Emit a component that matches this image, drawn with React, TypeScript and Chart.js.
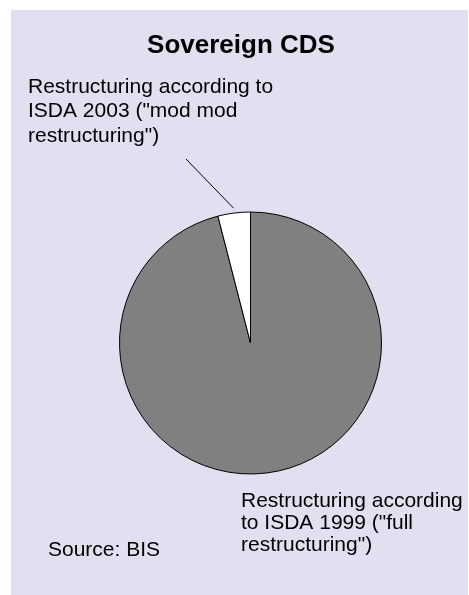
import React, { useEffect, useRef } from "react";
import { Chart, registerables } from "chart.js";

Chart.register(...registerables);

// Share of sovereign CDS contracts by restructuring clause (%)
const categories: string[] = [
  'Restructuring according to ISDA 1999 ("full restructuring")',
  'Restructuring according to ISDA 2003 ("mod mod restructuring")',
];
const shares: number[] = [96, 4];
const sliceColors: string[] = ["#808080", "#FFFFFF"];

const titleText = "Sovereign CDS";
const sourceText = "Source: BIS";
const fullLabelLines: string[] = ["Restructuring according", 'to ISDA 1999 ("full', 'restructuring")'];
const modLabelLines: string[] = ["Restructuring according to", 'ISDA 2003 ("mod mod', 'restructuring")'];

const W = 469;
const H = 595;
const FONT = "'Liberation Sans', Arial, Helvetica, sans-serif";

const annotationsPlugin = {
  id: "pieAnnotations",
  afterDatasetsDraw(chart: any) {
    const { ctx } = chart;
    ctx.save();
    ctx.fillStyle = "#000";
    ctx.textBaseline = "alphabetic";

    // Title
    ctx.font = `bold 26px ${FONT}`;
    ctx.textAlign = "center";
    ctx.fillText(titleText, 241, 53);

    // Slice labels
    ctx.font = `21px ${FONT}`;
    ctx.textAlign = "left";
    modLabelLines.forEach((t, i) => ctx.fillText(t, 28, 92.5 + i * 24.5));
    fullLabelLines.forEach((t, i) => ctx.fillText(t, 241, 506.5 + i * 22));

    // Source note
    ctx.fillText(sourceText, 48, 556);

    // Leader line from the small slice to its label
    const arc = chart.getDatasetMeta(0).data[1] as any;
    if (arc) {
      const { x, y, startAngle, endAngle, outerRadius } = arc.getProps(
        ["x", "y", "startAngle", "endAngle", "outerRadius"],
        true
      );
      const mid = (startAngle + endAngle) / 2;
      const r = outerRadius + 5;
      ctx.beginPath();
      ctx.strokeStyle = "#000";
      ctx.lineWidth = 1;
      ctx.moveTo(x + Math.cos(mid) * r, y + Math.sin(mid) * r);
      ctx.lineTo(186, 159);
      ctx.stroke();
    }
    ctx.restore();
  },
};

export default function App() {
  const canvasRef = useRef<HTMLCanvasElement | null>(null);

  useEffect(() => {
    document.body.style.margin = "0";
    const canvas = canvasRef.current;
    if (!canvas) return;
    const chart = new Chart(canvas, {
      type: "pie",
      data: {
        labels: categories,
        datasets: [
          {
            data: shares,
            backgroundColor: sliceColors,
            borderColor: "#000000",
            borderWidth: 1,
          },
        ],
      },
      options: {
        responsive: false,
        animation: false,
        devicePixelRatio: 1,
        radius: 131,
        layout: { padding: { left: 32, right: 0, top: 91, bottom: 0 } },
        plugins: {
          legend: { display: false },
          title: { display: false },
          tooltip: { enabled: false },
        },
      },
      plugins: [annotationsPlugin],
    } as any);
    return () => chart.destroy();
  }, []);

  return (
    <div style={{ position: "relative", width: W, height: H, background: "#FFFFFF" }}>
      <div
        style={{
          position: "absolute",
          left: 11,
          top: 10,
          width: 457,
          height: 585,
          background: "#E0E0F0",
        }}
      />
      <canvas
        ref={canvasRef}
        width={W}
        height={H}
        style={{ position: "absolute", left: 0, top: 0, width: W, height: H }}
      />
    </div>
  );
}
